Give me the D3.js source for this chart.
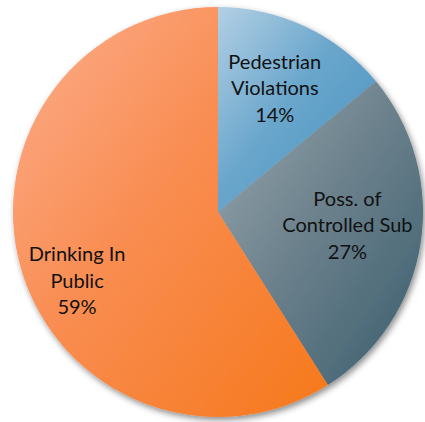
<!DOCTYPE html>
<html><head><meta charset="utf-8">
<script src="https://cdn.jsdelivr.net/npm/d3@7"></script>
<style>html,body{margin:0;padding:0;background:#fff;}svg{display:block;}</style>
</head><body>
<svg id="chart" width="425" height="422"></svg>
<script>
const categories = ["Pedestrian Violations", "Poss. of Controlled Sub", "Drinking In Public"];
const labelLines = [["Pedestrian", "Violations"], ["Poss. of", "Controlled Sub"], ["Drinking In", "Public"]];
const values = [14, 27, 59];
const colorsLight = ["#b3d0e4", "#9aaab2", "#fcae8e"];
const colorsMid = ["#6aa6cc", "#6d828d", "#f98d52"];
const colorsDark = ["#4692bf", "#3a5d6d", "#f6781a"];

const svg = d3.select("#chart");
const cx = 218, cy = 212, R = 205;
const defs = svg.append("defs");
const f = defs.append("filter").attr("id", "shadow").attr("x", "-10%").attr("y", "-10%").attr("width", "120%").attr("height", "120%");
f.append("feDropShadow").attr("dx", 2).attr("dy", 3).attr("stdDeviation", 3).attr("flood-color", "#000").attr("flood-opacity", 0.45);

categories.forEach((c, i) => {
  const g = defs.append("linearGradient").attr("id", "grad" + i)
    .attr("x1", "0%").attr("y1", "0%").attr("x2", "100%").attr("y2", "100%");
  g.append("stop").attr("offset", "0%").attr("stop-color", colorsLight[i]);
  g.append("stop").attr("offset", "45%").attr("stop-color", colorsMid[i]);
  g.append("stop").attr("offset", "100%").attr("stop-color", colorsDark[i]);
});

const pie = d3.pie().sort(null).value(d => d);
const arcs = pie(values);
const arc = d3.arc().innerRadius(0).outerRadius(R);
const g = svg.append("g").attr("transform", `translate(${cx},${cy})`);
g.append("g").attr("filter", "url(#shadow)")
  .selectAll("path").data(arcs).join("path")
  .attr("d", arc).attr("fill", (d, i) => `url(#grad${i})`);

const labelRadius = [131, 130, 152];
const labelShiftX = [1, 1, 5];
const labelShiftY = [2, 0, 33.5];
arcs.forEach((d, i) => {
  const a = (d.startAngle + d.endAngle) / 2;
  const r = labelRadius[i];
  const x = Math.sin(a) * r + labelShiftX[i];
  const y = -Math.cos(a) * r + labelShiftY[i];
  const lines = labelLines[i].concat([values[i] + "%"]);
  const t = g.append("text").attr("text-anchor", "middle")
    .attr("font-family", "Lato, 'Open Sans', sans-serif").attr("font-size", 20).attr("fill", "#111");
  lines.forEach((l, k) => {
    t.append("tspan").attr("x", x).attr("y", y + (k - 1) * 26.5).text(l);
  });
});
</script>
</body></html>
